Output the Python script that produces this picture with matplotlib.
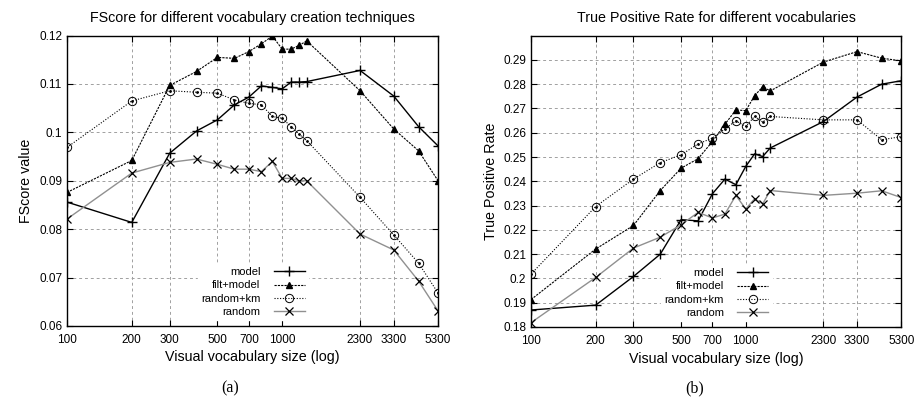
import matplotlib
matplotlib.use("Agg")
import matplotlib.pyplot as plt
from matplotlib.ticker import FixedLocator, FixedFormatter, NullLocator

plt.rcParams['font.family'] = ['Liberation Sans', 'DejaVu Sans']

# vocabulary sizes
vocab = [100, 200, 300, 400, 500, 600, 700, 800, 900, 1000, 1100, 1200, 1300, 2300, 3300, 4300, 5300]
xtick_vals = [100, 200, 300, 500, 700, 1000, 2300, 3300, 5300]

# (a) FScore
fs_model = [0.0856, 0.0814, 0.0957, 0.1003, 0.1026, 0.1057, 0.1073, 0.1096, 0.1093, 0.1090,
            0.1104, 0.1104, 0.1105, 0.1128, 0.1075, 0.1012, 0.0972]
fs_filt = [0.0876, 0.0942, 0.1097, 0.1126, 0.1155, 0.1153, 0.1167, 0.1183, 0.1199, 0.1172,
           0.1172, 0.1180, 0.1189, 0.1086, 0.1007, 0.0962, 0.0900]
fs_rkm = [0.0969, 0.1065, 0.1086, 0.1083, 0.1081, 0.1067, 0.1060, 0.1057, 0.1033, 0.1029,
          0.1012, 0.0996, 0.0983, 0.0866, 0.0788, 0.0730, 0.0668]
fs_random = [0.0821, 0.0916, 0.0938, 0.0945, 0.0934, 0.0924, 0.0924, 0.0919, 0.0940, 0.0905,
             0.0905, 0.0900, 0.0900, 0.0790, 0.0757, 0.0693, 0.0631]

# (b) True positive rate
tp_model = [0.1870, 0.1890, 0.2008, 0.2100, 0.2242, 0.2237, 0.2349, 0.2409, 0.2386, 0.2461,
            0.2513, 0.2502, 0.2537, 0.2646, 0.2747, 0.2800, 0.2814]
tp_filt = [0.1913, 0.2121, 0.2218, 0.2362, 0.2454, 0.2493, 0.2564, 0.2635, 0.2694, 0.2691,
           0.2752, 0.2790, 0.2772, 0.2891, 0.2934, 0.2907, 0.2896]
tp_rkm = [0.2018, 0.2296, 0.2409, 0.2477, 0.2509, 0.2554, 0.2578, 0.2616, 0.2649, 0.2626,
          0.2667, 0.2644, 0.2667, 0.2653, 0.2653, 0.2571, 0.2584]
tp_random = [0.1818, 0.2004, 0.2125, 0.2170, 0.2221, 0.2272, 0.2249, 0.2265, 0.2342, 0.2286,
             0.2328, 0.2307, 0.2362, 0.2342, 0.2351, 0.2361, 0.2333]

labels = ['model', 'filt+model', 'random+km', 'random']


def draw_series(ax, ys):
    m, f, r, rn = ys
    ax.plot(vocab, m, color='black', lw=1.0, marker='+', ms=7, mew=1.0, label=labels[0])
    ax.plot(vocab, f, color='black', lw=0.8, ls=(0, (2, 1)), marker='^', ms=4, label=labels[1])
    ax.plot(vocab, r, color='black', lw=0.8, ls=(0, (1, 1.5)), marker='o', ms=6,
            mfc='none', mew=0.7, label=labels[2])
    ax.plot(vocab, r, ls='none', marker='.', ms=2, color='black')
    ax.plot(vocab, rn, color='#909090', lw=1.0, marker='x', ms=6, mec='black', mew=0.9,
            label=labels[3])


def style_axes(ax, yticks, ylim, title, ylabel):
    ax.set_xscale('log')
    ax.set_xlim(100, 5300)
    ax.set_ylim(*ylim)
    ax.xaxis.set_major_locator(FixedLocator(xtick_vals))
    ax.xaxis.set_major_formatter(FixedFormatter([str(v) for v in xtick_vals]))
    ax.xaxis.set_minor_locator(NullLocator())
    ax.set_yticks(yticks)
    ax.set_yticklabels([f'{v:g}' for v in yticks])
    ax.grid(True, ls=(0, (3, 3)), color='#a0a0a0', lw=0.7)
    ax.tick_params(labelsize=8.5, direction='in', length=4, top=True, right=True)
    ax.tick_params(axis='x', pad=6)
    ax.set_title(title, fontsize=10.3, pad=10)
    ax.set_xlabel('Visual vocabulary size (log)', fontsize=10.3, labelpad=3)
    ax.set_ylabel(ylabel, fontsize=10.3)
    for s in ax.spines.values():
        s.set_linewidth(1.0)
    leg = ax.legend(loc='lower right', bbox_to_anchor=(0.665, 0.0), markerfirst=False,
                    fontsize=8, frameon=True, fancybox=False, framealpha=1.0,
                    edgecolor='white', handlelength=2.8, labelspacing=0.3,
                    borderpad=0.3, handletextpad=1.2)
    leg.set_zorder(5)


fig = plt.figure(figsize=(9.14, 4.0), dpi=100)
ax1 = fig.add_axes([0.0733, 0.185, 0.406, 0.726])
ax2 = fig.add_axes([0.581, 0.1825, 0.405, 0.7285])

draw_series(ax1, [fs_model, fs_filt, fs_rkm, fs_random])
style_axes(ax1, [0.06, 0.07, 0.08, 0.09, 0.1, 0.11, 0.12], (0.06, 0.12),
           'FScore for different vocabulary creation techniques', 'FScore value')

draw_series(ax2, [tp_model, tp_filt, tp_rkm, tp_random])
style_axes(ax2, [0.18 + 0.01 * i for i in range(12)], (0.18, 0.30),
           'True Positive Rate for different vocabularies', 'True Positive Rate')

serif = ['Liberation Serif', 'DejaVu Serif']
fig.text(0.252, 0.028, '(a)', ha='center', va='center', fontsize=11.5, family=serif)
fig.text(0.76, 0.028, '(b)', ha='center', va='center', fontsize=11.5, family=serif)

fig.savefig('out.png', dpi=100)
